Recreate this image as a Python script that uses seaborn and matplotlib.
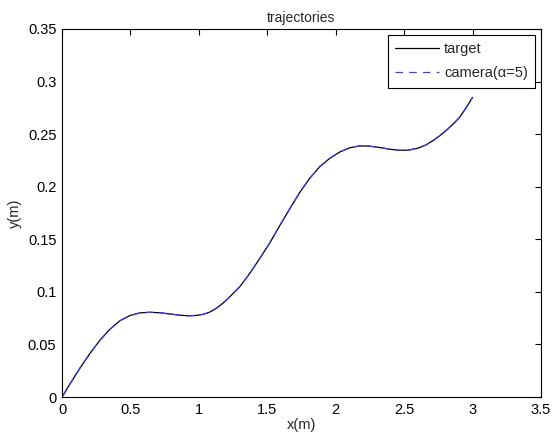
import pandas as pd
import matplotlib
matplotlib.use('Agg')
import matplotlib.pyplot as plt
import seaborn as sns

# Trajectory samples
x_vals = [0.0, 0.058, 0.131, 0.204, 0.277, 0.350, 0.423, 0.496, 0.569, 0.642,
          0.715, 0.788, 0.861, 0.922, 0.975, 1.031, 1.080, 1.129, 1.178, 1.226,
          1.299, 1.372, 1.445, 1.518, 1.591, 1.664, 1.737, 1.810, 1.883, 1.956,
          2.029, 2.102, 2.175, 2.248, 2.321, 2.394, 2.467, 2.530, 2.600, 2.660,
          2.710, 2.760, 2.810, 2.860, 2.905, 2.950, 3.0]
target_y = [0.0, 0.0125, 0.0275, 0.0415, 0.0540, 0.0645, 0.0725, 0.0775, 0.0800, 0.0806,
            0.0801, 0.0790, 0.0778, 0.0773, 0.0775, 0.0786, 0.0808, 0.0845, 0.0895, 0.0953,
            0.1049, 0.1176, 0.1318, 0.1465, 0.1630, 0.1790, 0.1945, 0.2080, 0.2190, 0.2270,
            0.2330, 0.2370, 0.2388, 0.2386, 0.2373, 0.2357, 0.2346, 0.2348, 0.2366, 0.2398,
            0.2438, 0.2485, 0.2538, 0.2598, 0.2660, 0.2745, 0.2850]
camera_y = [0.0, 0.0123, 0.0276, 0.0414, 0.0541, 0.0644, 0.0726, 0.0774, 0.0801, 0.0805,
            0.0802, 0.0789, 0.0779, 0.0772, 0.0776, 0.0787, 0.0807, 0.0846, 0.0894, 0.0952,
            0.1050, 0.1175, 0.1319, 0.1464, 0.1631, 0.1789, 0.1946, 0.2079, 0.2191, 0.2269,
            0.2331, 0.2369, 0.2389, 0.2385, 0.2374, 0.2356, 0.2347, 0.2347, 0.2367, 0.2397,
            0.2439, 0.2484, 0.2539, 0.2597, 0.2661, 0.2744, 0.2848]

sns.set_style('white')
plt.rcParams['font.family'] = ['Liberation Sans', 'DejaVu Sans']

fig = plt.figure(figsize=(5.54, 4.36), dpi=100)
ax = fig.add_axes([0.112, 0.0894, 0.8645, 0.8441])

df = pd.DataFrame({'x': x_vals, 'target': target_y, 'camera': camera_y})
sns.lineplot(data=df, x='x', y='target', ax=ax, color='black', linewidth=0.9,
             label='target')
sns.lineplot(data=df, x='x', y='camera', ax=ax, color='#3a3aff', linewidth=0.9,
             linestyle=(0, (6, 5)), label='camera(α=5)')

ax.set_xlim(0, 3.5)
ax.set_ylim(0, 0.35)
ax.set_xticks([0, 0.5, 1, 1.5, 2, 2.5, 3, 3.5])
ax.set_xticklabels(['0', '0.5', '1', '1.5', '2', '2.5', '3', '3.5'])
ax.set_yticks([0, 0.05, 0.1, 0.15, 0.2, 0.25, 0.3, 0.35])
ax.set_yticklabels(['0', '0.05', '0.1', '0.15', '0.2', '0.25', '0.3', '0.35'])
ax.tick_params(direction='in', length=4, width=0.8, top=True, right=True,
               labelsize=10.5, colors='black', pad=4)
for s in ax.spines.values():
    s.set_color('black')
    s.set_linewidth(0.8)

ax.set_xlabel('x(m)', fontsize=10.5, labelpad=1)
ax.set_ylabel('y(m)', fontsize=10.5, labelpad=4)
ax.set_title('trajectories', fontsize=10, pad=5)

leg = ax.legend(loc='upper right', fontsize=10.5, frameon=True, fancybox=False,
                edgecolor='black', framealpha=1, borderaxespad=0.4,
                handlelength=3.0, handletextpad=0.35, borderpad=0.5,
                labelspacing=0.7)
leg.get_frame().set_linewidth(0.8)

fig.savefig('out.png', dpi=100)
plt.close(fig)
